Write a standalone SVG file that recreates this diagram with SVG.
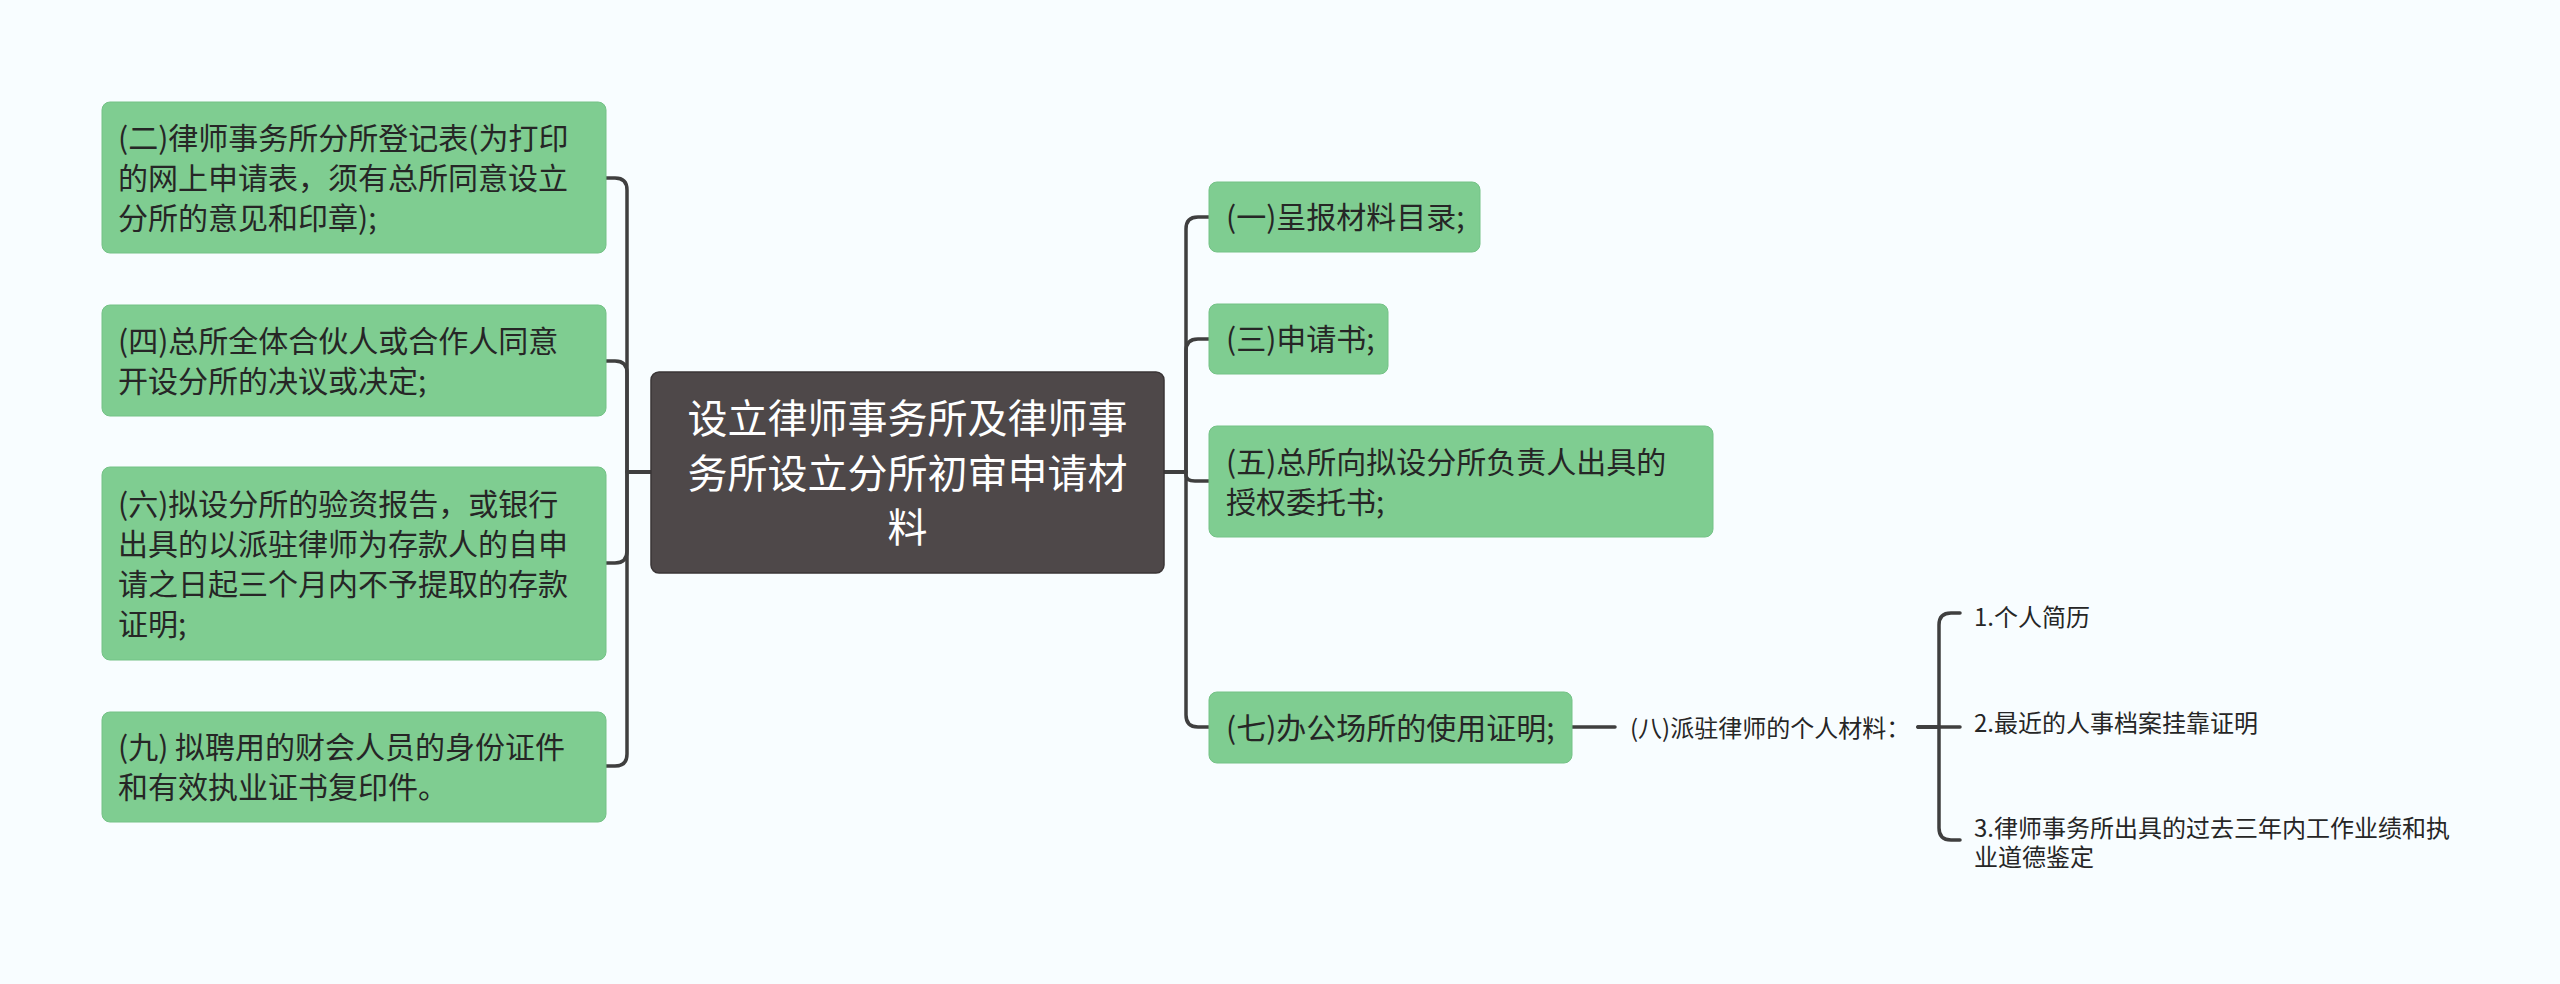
<svg xmlns="http://www.w3.org/2000/svg" width="2560" height="984" viewBox="0 0 2560 984">
<style>
.bg{fill:#F8FDFF}
.g{fill:#7FCD91;stroke:#74C286;stroke-width:1}
.root{fill:#4E4849;stroke:#3A3536;stroke-width:1.5}
.t{font-family:"Noto Sans CJK SC","Microsoft YaHei",sans-serif;font-size:30px;fill:#262626}
.rt{font-family:"Noto Sans CJK SC","Microsoft YaHei",sans-serif;font-size:40px;fill:#FFFFFF;text-anchor:middle}
.s{font-family:"Noto Sans CJK SC","Microsoft YaHei",sans-serif;font-size:24px;fill:#262626}
.c{fill:none;stroke:#3F3F3F;stroke-width:3.5;stroke-linecap:round;stroke-linejoin:round}
</style>
<rect class="bg" x="0" y="0" width="2560" height="984"/>
<g id="connectors">
<path class="c" d="M651 472 H627 V190 Q627 178 615 178 H606"/>
<path class="c" d="M651 472 H627 V373 Q627 361 615 361 H606"/>
<path class="c" d="M651 472 H627 V551 Q627 563 615 563 H606"/>
<path class="c" d="M651 472 H627 V754 Q627 766 615 766 H606"/>
<path class="c" d="M1164 472 H1186 V229 Q1186 217 1198 217 H1209"/>
<path class="c" d="M1164 472 H1186 V351 Q1186 339 1198 339 H1209"/>
<path class="c" d="M1164 472 H1186 V475 Q1186 481 1195 481 H1209"/>
<path class="c" d="M1164 472 H1186 V715 Q1186 727 1198 727 H1209"/>
<path class="c" d="M1572 727 H1615"/>
<path class="c" d="M1918 727 H1939 V625 Q1939 613 1951 613 H1960"/>
<path class="c" d="M1918 727 H1960"/>
<path class="c" d="M1918 727 H1939 V828 Q1939 840 1951 840 H1960"/>
</g>
<g id="root">
<rect class="root" x="651" y="372" width="513" height="201" rx="8"/>
<text class="rt"><tspan x="907.5" y="433">设立律师事务所及律师事</tspan><tspan x="907.5" y="487.5">务所设立分所初审申请材</tspan><tspan x="907.5" y="542">料</tspan></text>
</g>
<g id="n2">
<rect class="g" x="102" y="102" width="504" height="151" rx="8"/>
<text class="t"><tspan x="118" y="148.5">(二)律师事务所分所登记表(为打印</tspan><tspan x="118" y="188.5">的网上申请表，须有总所同意设立</tspan><tspan x="118" y="228.5">分所的意见和印章);</tspan></text>
</g>
<g id="n4">
<rect class="g" x="102" y="305" width="504" height="111" rx="8"/>
<text class="t"><tspan x="118" y="351.5">(四)总所全体合伙人或合作人同意</tspan><tspan x="118" y="391.5">开设分所的决议或决定;</tspan></text>
</g>
<g id="n6">
<rect class="g" x="102" y="467" width="504" height="193" rx="8"/>
<text class="t"><tspan x="118" y="514.5">(六)拟设分所的验资报告，或银行</tspan><tspan x="118" y="554.5">出具的以派驻律师为存款人的自申</tspan><tspan x="118" y="594.5">请之日起三个月内不予提取的存款</tspan><tspan x="118" y="634.5">证明;</tspan></text>
</g>
<g id="n9">
<rect class="g" x="102" y="712" width="504" height="110" rx="8"/>
<text class="t"><tspan x="118" y="758">(九) 拟聘用的财会人员的身份证件</tspan><tspan x="118" y="798">和有效执业证书复印件。</tspan></text>
</g>
<g id="n1">
<rect class="g" x="1209" y="182" width="271" height="70" rx="8"/>
<text class="t" x="1226" y="228">(一)呈报材料目录;</text>
</g>
<g id="n3">
<rect class="g" x="1209" y="304" width="179" height="70" rx="8"/>
<text class="t" x="1226" y="350">(三)申请书;</text>
</g>
<g id="n5">
<rect class="g" x="1209" y="426" width="504" height="111" rx="8"/>
<text class="t"><tspan x="1226" y="472.5">(五)总所向拟设分所负责人出具的</tspan><tspan x="1226" y="512.5">授权委托书;</tspan></text>
</g>
<g id="n7">
<rect class="g" x="1209" y="692" width="363" height="71" rx="8"/>
<text class="t" x="1226" y="738.5">(七)办公场所的使用证明;</text>
</g>
<g id="n8">
<text class="s" x="1630" y="737">(八)派驻律师的个人材料：</text>
</g>
<g id="i1">
<text class="s" x="1974" y="626">1.个人简历</text>
</g>
<g id="i2">
<text class="s" x="1974" y="732">2.最近的人事档案挂靠证明</text>
</g>
<g id="i3">
<text class="s"><tspan x="1974" y="837">3.律师事务所出具的过去三年内工作业绩和执</tspan><tspan x="1974" y="866">业道德鉴定</tspan></text>
</g>
</svg>
